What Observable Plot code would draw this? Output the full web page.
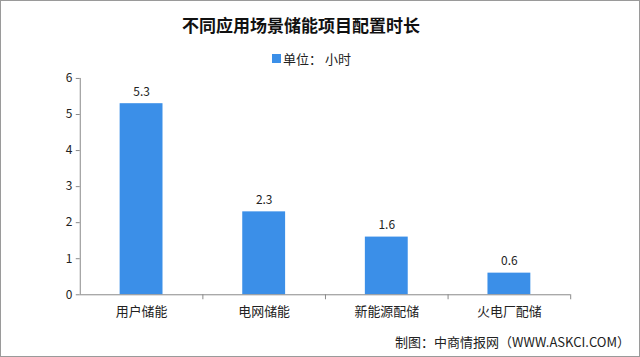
<!DOCTYPE html>
<html><head><meta charset="utf-8">
<script src="https://cdn.jsdelivr.net/npm/d3@7"></script>
<script src="https://cdn.jsdelivr.net/npm/@observablehq/plot@0.6"></script>
<style>
body{margin:0;background:#fff;}
#c{position:relative;width:640px;height:357px;box-sizing:border-box;border:1px solid #9a9a9a;overflow:hidden;font-family:"Noto Sans CJK SC",sans-serif;}
#title{position:absolute;left:0;width:600px;top:11px;text-align:center;font-size:17px;font-weight:bold;color:#111;}
#legend{position:absolute;left:271px;top:48px;font-size:13px;color:#222;display:flex;align-items:center;}
#legend span.sw{display:inline-block;width:9px;height:9px;background:#3b8fe8;margin-right:2px;}
#cap{position:absolute;right:9px;top:331px;font-size:13px;color:#222;}
#plot{position:absolute;left:0;top:64px;}
</style></head>
<body><div id="c">
<div id="title">不同应用场景储能项目配置时长</div>
<div id="legend"><span class="sw"></span><span>单位： 小时</span></div>
<div id="plot"></div>
<div id="cap">制图：中商情报网（WWW.ASKCI.COM）</div>
</div>
<script>
const categories = ["用户储能", "电网储能", "新能源配储", "火电厂配储"];
const hours = [5.3, 2.3, 1.6, 0.6];
const yTicks = [0, 1, 2, 3, 4, 5, 6];
const data = categories.map((c, i) => ({c, v: hours[i]}));

const W = 640, mL = 79, mR = 69;
const step = (W - mL - mR) / categories.length;
const col = "#3b8fe8";
const axisCol = "#8a8a8a";

const chart = Plot.plot({
  width: W, height: 261,
  marginLeft: mL, marginRight: mR, marginTop: 13, marginBottom: 31,
  style: {fontFamily: "'Noto Sans CJK SC', sans-serif", color: "#222", background: "transparent", overflow: "visible"},
  x: {domain: categories, paddingInner: 0.65, paddingOuter: 0.325, label: null},
  y: {domain: [0, 6], label: null},
  marks: [
    Plot.barY(data, {x: "c", y: "v", fill: col}),
    Plot.ruleY([0], {stroke: axisCol}),
    Plot.ruleX([categories[0]], {dx: -step / 2, y1: 0, y2: 6, stroke: axisCol}),
    Plot.axisY({ticks: yTicks, tickFormat: "d", tickSize: 4, tickPadding: 4, fontSize: 12, stroke: axisCol, color: "#222", label: null}),
    Plot.axisX({tickSize: 5, tickFormat: () => "", dx: step / 2, stroke: axisCol, label: null}),
    Plot.axisX({tickSize: 0, tickPadding: 12, fontSize: 13, label: null}),
    Plot.text(data, {x: "c", y: "v", text: d => d.v.toFixed(1), dy: -12, fontSize: 12, fill: "#222", style: {letterSpacing: "2px"}})
  ]
});
document.getElementById("plot").appendChild(chart);
</script>
</body></html>
